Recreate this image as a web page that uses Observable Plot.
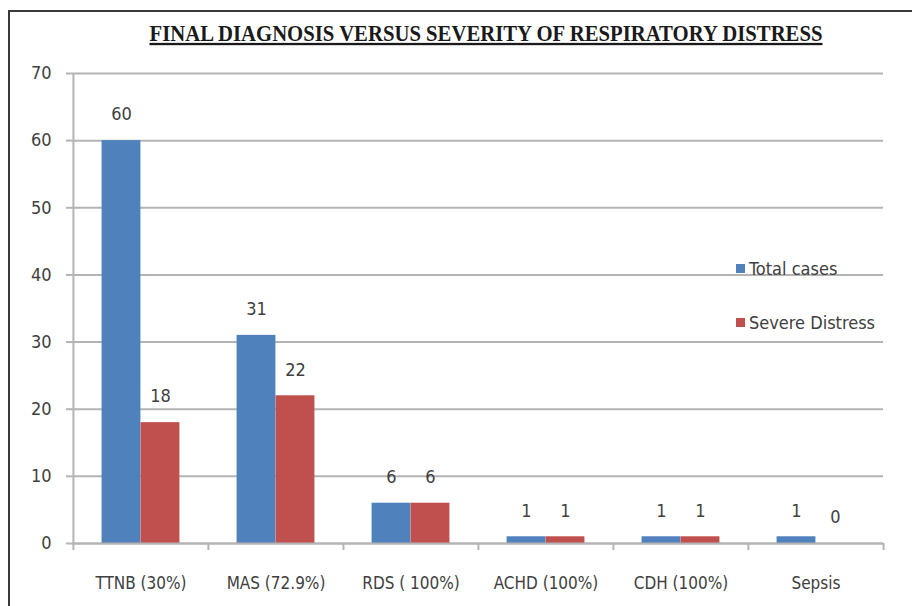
<!DOCTYPE html>
<html>
<head>
<meta charset="utf-8">
<script src="https://cdn.jsdelivr.net/npm/d3@7"></script>
<script src="https://cdn.jsdelivr.net/npm/@observablehq/plot@0.6"></script>
<style>
  html, body { margin: 0; padding: 0; background: #fff; }
  #wrap { position: relative; width: 912px; height: 606px; overflow: hidden; background: #fff; }
  #border { position: absolute; left: 8px; top: 10px; width: 920px; height: 620px;
            border-left: 2px solid #3a3a3a; border-top: 2px solid #3a3a3a; }
  #chart { position: absolute; left: 0; top: 0; }
  #legend { position: absolute; left: 736px; top: 257px;
            font-family: "Liberation Sans Narrow", "DejaVu Sans Condensed", "Liberation Sans", sans-serif;
            font-size: 18px; color: #404040; }
  .item { display: flex; align-items: center; height: 22px; margin-bottom: 32px; white-space: nowrap; }
  .sw { width: 9px; height: 9px; margin-right: 4px; }
</style>
</head>
<body>
<div id="wrap">
  <div id="border"></div>
  <div id="chart"></div>
  <div id="legend"></div>
</div>
<script>
// Final diagnosis categories with counts per series
const categories = ["TTNB (30%)", "MAS (72.9%)", "RDS ( 100%)", "ACHD (100%)", "CDH (100%)", "Sepsis"];
const totalCases = [60, 31, 6, 1, 1, 1];
const severeDistress = [18, 22, 6, 1, 1, 0];
const seriesNames = ["Total cases", "Severe Distress"];
const seriesColors = ["#4f81bd", "#c0504d"];
const yTicks = [0, 10, 20, 30, 40, 50, 60, 70];
const title = "FINAL DIAGNOSIS VERSUS SEVERITY OF RESPIRATORY DISTRESS";

const W = 912, H = 606;
const mL = 72, mR = 29, mT = 73, mB = 63;
const step = (W - mL - mR) / categories.length;
const barW = 39;
const inset = (step - barW) / 2;
const plotH = H - mT - mB;

const tickFont = `"Liberation Sans Narrow", "DejaVu Sans Condensed", "Liberation Sans", sans-serif`;

const rows = (vals, s) => vals.map((v, i) => ({cat: categories[i], series: s, value: v}));
const totalRows = rows(totalCases, seriesNames[0]);
const severeRows = rows(severeDistress, seriesNames[1]);

const gray = "#b4b4b4";

const chart = Plot.plot({
  width: W,
  height: H,
  marginLeft: mL,
  marginRight: mR,
  marginTop: mT,
  marginBottom: mB,
  style: {fontFamily: tickFont, fontSize: "18px", color: "#404040", background: "transparent"},
  x: {domain: categories, padding: 0, label: null},
  y: {domain: [0, 70], label: null},
  color: {domain: seriesNames, range: seriesColors},
  marks: [
    Plot.gridY(yTicks, {stroke: gray, strokeOpacity: 1, strokeWidth: 2}),
    // y axis line and category boundary ticks
    Plot.ruleX([categories[0]], {dx: -step / 2, stroke: gray, strokeWidth: 2}),
    Plot.ruleX(categories, {dx: -step / 2, stroke: gray, strokeWidth: 2, insetTop: plotH, insetBottom: -7}),
    Plot.ruleX([categories[categories.length - 1]], {dx: step / 2, stroke: gray, strokeWidth: 2, insetTop: plotH, insetBottom: -7}),
    Plot.axisY(yTicks, {tickSize: 6, tickPadding: 15, stroke: gray, strokeWidth: 2, fill: "#404040", fontSize: 18}),
    Plot.axisX({tickSize: 0, tickPadding: 33, fill: "#404040", fontSize: 17}),
    Plot.barY(totalRows, {x: "cat", y: "value", fill: "series", insetLeft: inset, insetRight: inset, dx: -barW / 2}),
    Plot.barY(severeRows, {x: "cat", y: "value", fill: "series", insetLeft: inset, insetRight: inset, dx: barW / 2}),
    Plot.ruleY([0], {stroke: gray, strokeWidth: 2}),
    Plot.text(totalRows, {x: "cat", y: "value", text: "value", dx: -barW / 2, dy: -26, fill: "#404040", fontSize: 18}),
    Plot.text(severeRows, {x: "cat", y: "value", text: "value", dx: barW / 2, dy: -26, fill: "#404040", fontSize: 18}),
    Plot.text([title], {frameAnchor: "top", lineAnchor: "middle", dx: 8, dy: -40, fontFamily: "Liberation Serif", fontWeight: "bold",
      fontSize: 23, fill: "#1a1a1a", className: "chart-title"})
  ]
});
document.getElementById("chart").appendChild(chart);

// condense and underline the title
const t = chart.querySelector(".chart-title text");
if (t) {
  t.setAttribute("textLength", 673);
  t.setAttribute("lengthAdjust", "spacingAndGlyphs");
  t.style.textDecoration = "underline";
}

// legend
const legend = d3.select("#legend");
seriesNames.forEach((name, i) => {
  const item = legend.append("div").attr("class", "item");
  item.append("div").attr("class", "sw").style("background", seriesColors[i]);
  item.append("span").text(name);
});
</script>
</body>
</html>
